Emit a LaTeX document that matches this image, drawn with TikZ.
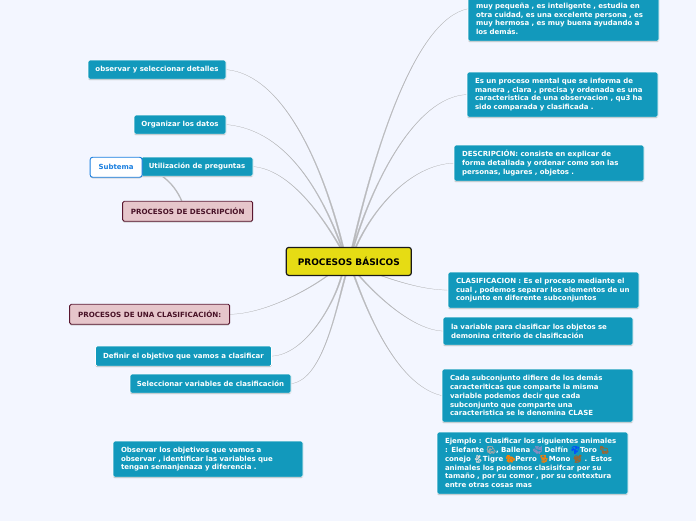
\documentclass[tikz,border=0pt]{standalone}
\usepackage{fontspec}
\setmainfont{DejaVu Sans}
\newfontfamily\emo[RawFeature={embolden=2}]{Noto Emoji}
\usetikzlibrary{backgrounds}
\definecolor{bgc}{HTML}{F3F6FF}
\definecolor{teal}{HTML}{1299BC}
\definecolor{lnk}{HTML}{B9BABD}
\definecolor{rootc}{HTML}{E6DC14}
\definecolor{pinkc}{HTML}{E6C6CB}
\definecolor{pinkd}{HTML}{5A1730}
\definecolor{subb}{HTML}{1A7FE0}
\newcommand{\ee}[2]{{\emo\fontsize{7.6}{8.75}\selectfont\textcolor{#1}{#2}}}
% tapered connector: start, control 1, control 2, end
\newcommand{\lkc}[4]{\fill[lk] ([xshift=.8pt]#1) .. controls ([xshift=.5pt]#2) and ([xshift=.1pt]#3) .. (#4)
   .. controls ([xshift=-.1pt]#3) and ([xshift=-.5pt]#2) .. ([xshift=-.8pt]#1) -- cycle;}
\tikzset{
  x=1pt,y=-1pt,
  base/.style={font=\bfseries\fontsize{7}{8.75}\selectfont,inner sep=0pt,anchor=north west,rounded corners=1.5pt},
  tbox/.style={base,fill=teal,draw=white,line width=.6pt,text=white,align=left,inner xsep=8pt,
    preaction={draw=none,fill=black!28,transform canvas={yshift=-1.1pt}}},
  lbox/.style={tbox,align=center,inner xsep=0pt},
  pbox/.style={base,fill=pinkc,draw=pinkd,line width=.9pt,text=pinkd!80!black,align=center,
    font=\bfseries\fontsize{7.15}{9}\selectfont,
    preaction={draw=none,fill=black!30,transform canvas={yshift=-1.2pt}}},
  sbox/.style={base,fill=white,draw=subb,line width=.9pt,text=subb,align=center,rounded corners=2.5pt,
    preaction={draw=none,fill=black!25,transform canvas={yshift=-1pt}}},
  rbox/.style={base,fill=rootc,draw=black!90,line width=1.2pt,text=black,align=center,rounded corners=2.5pt,
    font=\bfseries\fontsize{9}{10}\selectfont},
  lk/.style={fill=lnk,draw=lnk,line width=.2pt},
  lkb/.style={draw=lnk,line width=1.3pt},
}
\begin{document}
\begin{tikzpicture}
\useasboundingbox (0.3,0.2) rectangle (696.3,520.2);
\begin{pgfonlayer}{background}
\fill[bgc] (0,-1) rectangle (697,521);
\end{pgfonlayer}
\clip (0,-1) rectangle (697,521);
\node[rbox,minimum width=125pt,minimum height=28pt] (root) at (286,247) {PROCESOS BÁSICOS};
\node[tbox,text width=175pt,minimum height=44.5pt] (a1) at (468,-3.5) {muy pequeña , es inteligente , estudia en\\otra cuidad,  es una excelente persona , es\\muy hermosa , es muy buena ayudando a\\los demás.};
\node[tbox,text width=175pt,minimum height=45pt] (a2) at (467,72) {Es un proceso mental que se informa de\\manera , clara , precisa y ordenada es una\\caracteristica de una observacion  , qu3 ha\\sido comparada y clasificada .};
\node[tbox,text width=174pt,minimum height=36pt] (a3) at (454,145) {DESCRIPCIÓN: consiste en explicar de\\forma detallada y ordenar como son las\\personas,  lugares , objetos .};
\node[tbox,text width=175pt,minimum height=36pt] (a4) at (448,272) {CLASIFICACION : Es el proceso mediante el\\cual , podemos separar los elementos de un\\conjunto en diferente subconjuntos};
\node[tbox,text width=174pt,minimum height=28pt] (a5) at (443,317) {la variable para clasificar los objetos se\\demonina criterio de clasificación};
\node[tbox,text width=175pt,minimum height=53pt] (a6) at (442,369) {Cada subconjunto difiere de los demás\\caracteriticas que comparte la misma\\variable podemos decir que cada\\subconjunto que comparte una\\caracteristica se le denomina CLASE};
\node[tbox,text width=175pt,minimum height=62pt] (a7) at (437,432) {Ejemplo : Clasificar los siguientes animales\\: Elefante \ee{black!35}{🐘}, Ballena \ee{blue!30!gray!70}{🐳} Delfín \ee{blue!70!cyan}{🐬}Toro \ee{brown!80!black}{🐂}\\conejo \ee{black!15}{🐇}Tigre \ee{orange}{🐅}Perro \ee{orange!80!brown}{🐕}Mono \ee{brown!80!black}{🐒} . Estos\\animales los podemos clasisifcar por su\\tamaño , por su comor , por su contextura\\entre otras cosas mas};
\node[tbox,text width=174pt,minimum height=36pt] (b0) at (113,441) {Observar los objetivos que vamos a\\observar , identificar las variables que\\tengan semanjenaza y diferencia .};
\node[lbox,minimum width=138pt,minimum height=19pt] (b1) at (88,60) {observar y seleccionar detalles};
\node[lbox,minimum width=92pt,minimum height=19pt] (b2) at (134,115) {Organizar los datos};
\node[lbox,minimum width=112pt,minimum height=19pt] (b3) at (141,157) {Utilización de preguntas};
\node[sbox,minimum width=52pt,minimum height=20pt] (sub) at (90,157) {Subtema};
\node[pbox,minimum width=130pt,minimum height=20pt] (p1) at (122.5,201) {PROCESOS DE DESCRIPCIÓN};
\node[pbox,minimum width=160pt,minimum height=20pt] (p2) at (69.5,304) {PROCESOS DE UNA CLASIFICACIÓN:};
\node[lbox,minimum width=176pt,minimum height=20pt] (b4) at (95.5,346) {Definir el objetivo que vamos a clasificar};
\node[lbox,minimum width=161pt,minimum height=19pt] (b5) at (130,374) {Seleccionar variables de clasificación};
\coordinate (ra1) at (352,250);
\coordinate (ra2) at (353,250);
\coordinate (ra3) at (355,250);
\coordinate (ra4) at (365,270);
\coordinate (ra5) at (356,272);
\coordinate (ra6) at (353,272);
\coordinate (rb1) at (344,250);
\coordinate (rb2) at (343,250);
\coordinate (rb3) at (342,250);
\coordinate (rb4) at (333,272);
\coordinate (rb5) at (343,272);
\coordinate (rb6) at (347,272);
\coordinate (ea1) at (468,9);
\coordinate (pj) at (182,201);
\coordinate (uj) at (162,176);
\begin{pgfonlayer}{background}
\lkc{ra1}{375,150}{415,20}{ea1}
\lkc{ra2}{372,185}{415,97}{a2.west}
\lkc{ra3}{372,210}{410,165}{a3.west}
\lkc{ra4}{400,283}{425,290}{a4.west}
\lkc{ra5}{380,300}{415,330}{a5.west}
\lkc{ra6}{365,305}{395,385}{a6.west}
\lkc{rb1}{325,170}{285,75}{b1.east}
\lkc{rb2}{325,200}{290,130}{b2.east}
\lkc{rb3}{322,215}{290,170}{b3.east}
\lkc{rb4}{310,290}{265,314}{p2.east}
\lkc{rb5}{335,305}{305,355}{b4.east}
\lkc{rb6}{338,300}{325,380}{b5.east}
\draw[lkb] (uj) .. controls (172,183) and (178,192) .. (pj);
\end{pgfonlayer}
\end{tikzpicture}
\end{document}
